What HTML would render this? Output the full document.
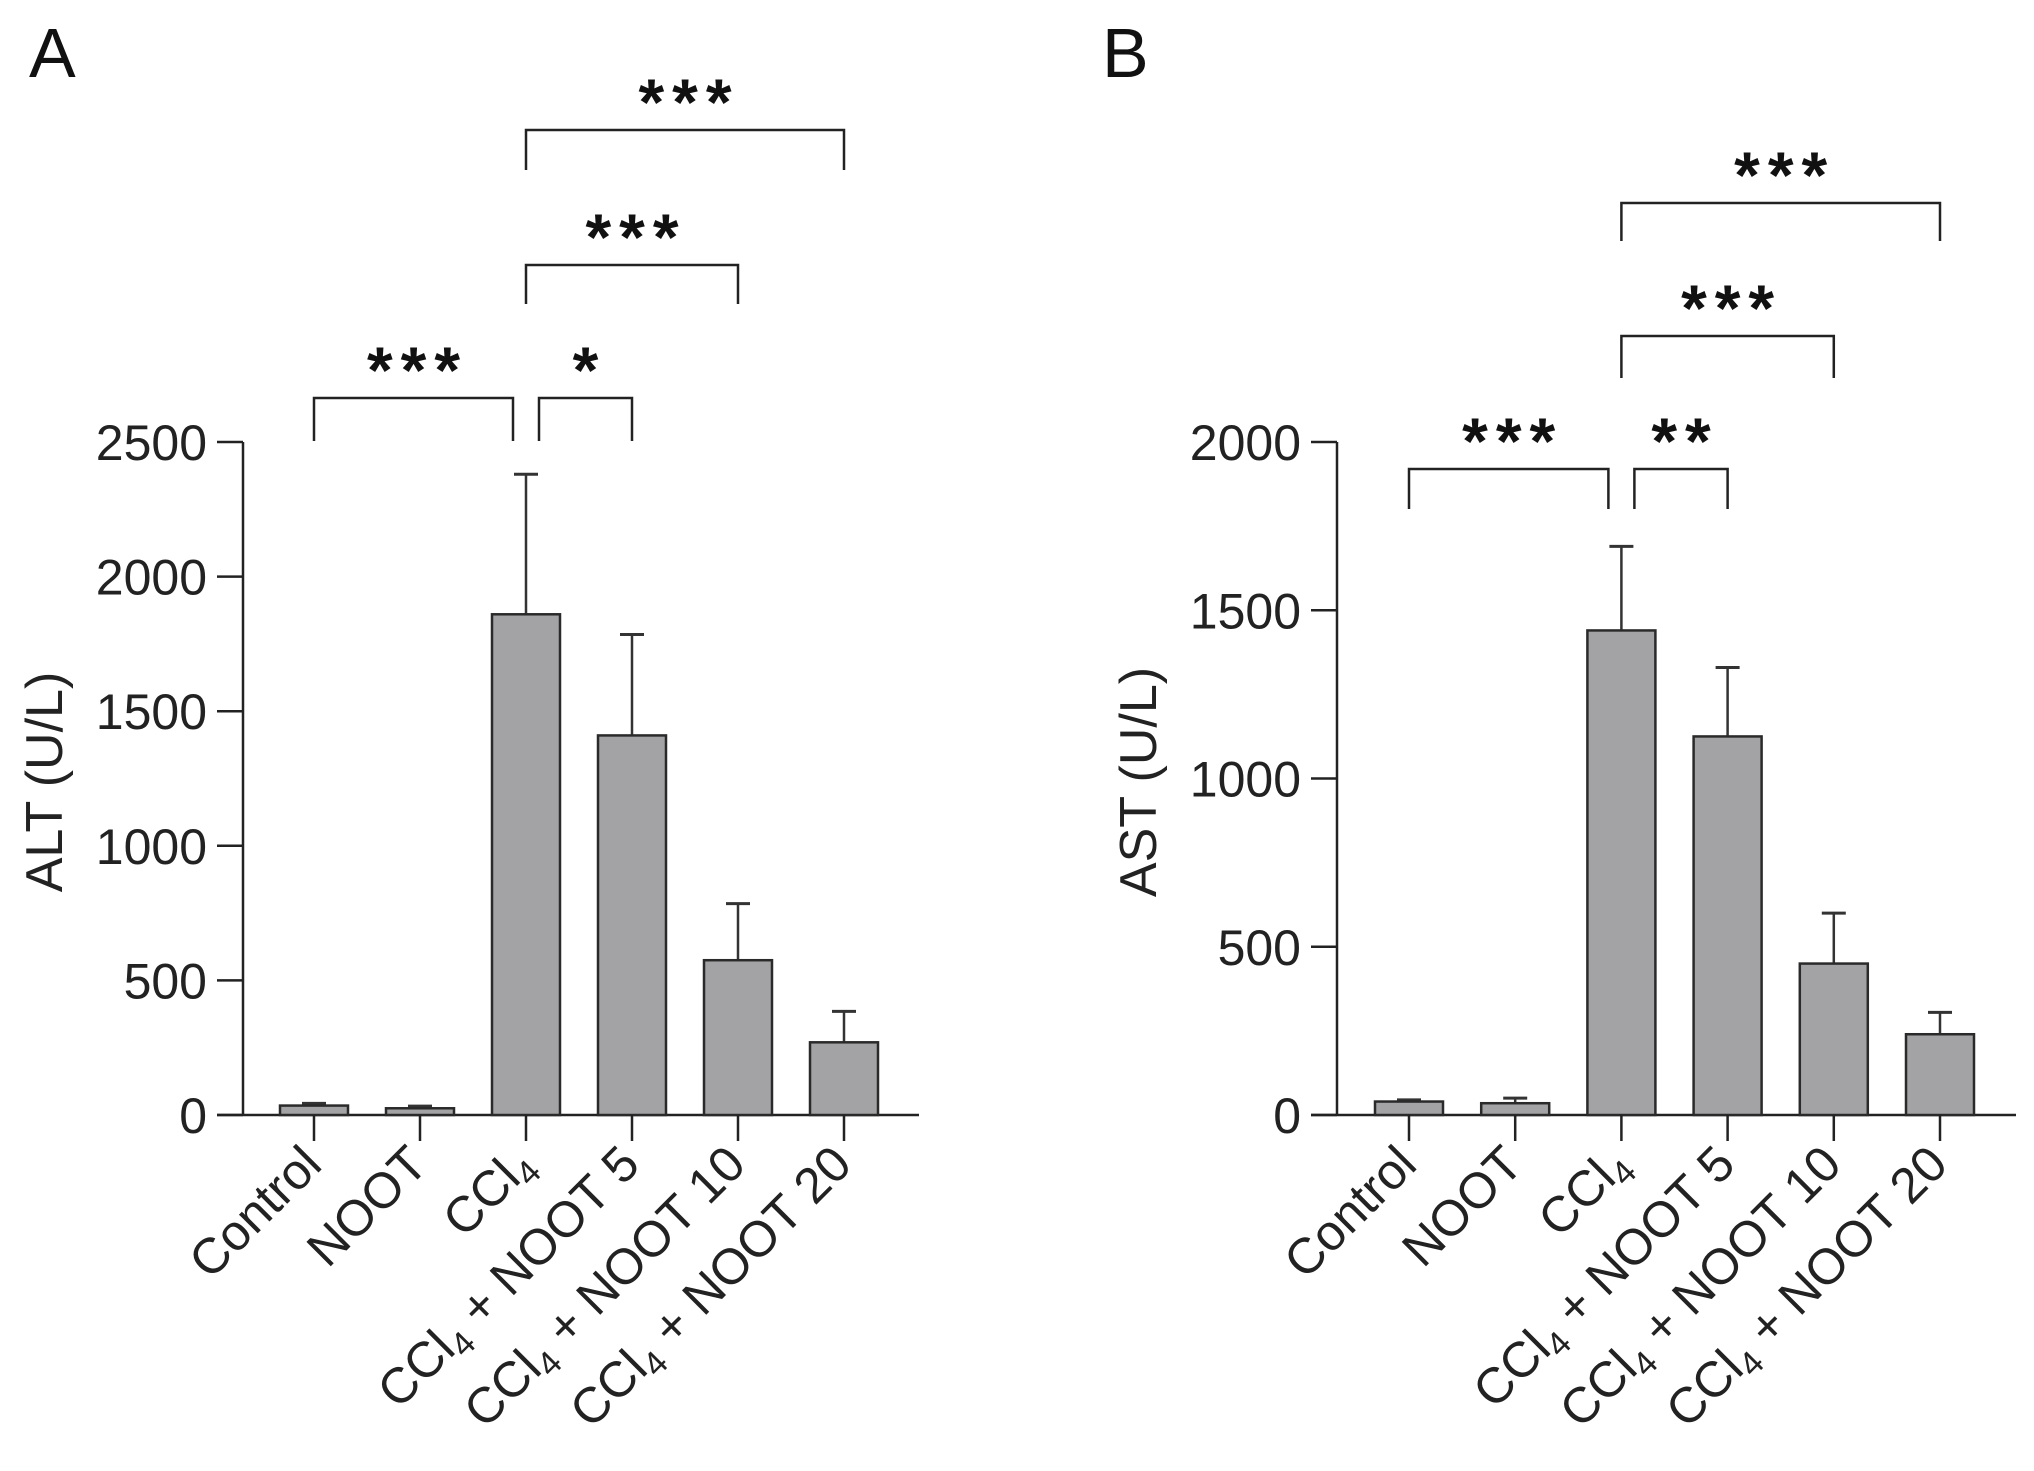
<!DOCTYPE html>
<html><head><meta charset="utf-8"><style>
html,body{margin:0;padding:0;background:#fff;overflow:hidden}
svg{display:block;font-family:"Liberation Sans",Arial,sans-serif}
</style></head><body>
<svg id="fig" width="2034" height="1471" viewBox="0 0 2034 1471" xmlns="http://www.w3.org/2000/svg"></svg>
<script>
const categories = ["Control","NOOT","CCl4","CCl4 + NOOT 5","CCl4 + NOOT 10","CCl4 + NOOT 20"];
const altMeans = [35, 25, 1860, 1410, 575, 270];
const altErr = [8, 8, 520, 375, 210, 115];
const astMeans = [40, 35, 1440, 1125, 450, 240];
const astErr = [5, 15, 250, 205, 150, 65];
const altTicks = [0, 500, 1000, 1500, 2000, 2500];
const astTicks = [0, 500, 1000, 1500, 2000];
const altSig = [{a:0,b:2,label:"***",level:0,gapR:true},{a:2,b:3,label:"*",level:0,gapL:true},{a:2,b:4,label:"***",level:1},{a:2,b:5,label:"***",level:2}];
const astSig = [{a:0,b:2,label:"***",level:0,gapR:true},{a:2,b:3,label:"**",level:0,gapL:true},{a:2,b:4,label:"***",level:1},{a:2,b:5,label:"***",level:2}];

const NS="http://www.w3.org/2000/svg";
const svg=document.getElementById('fig');
function mk(tag,attrs,parent){const e=document.createElementNS(NS,tag);for(const k in attrs)e.setAttribute(k,attrs[k]);(parent||svg).appendChild(e);return e;}

function panel(opt){
  const g=mk('g',{});
  
  
  const y0=1115, yTop=442;
  const y=v=>y0-(v/opt.max)*(y0-yTop);
  const x=i=>opt.x0+i*opt.step;
  const L=mk('text',{x:opt.letterX,y:77,'font-size':70,fill:'#111'},g);L.textContent=opt.letter;
  
  const ax=mk('line',{x1:opt.axX,y1:yTop,x2:opt.axX,y2:y0,stroke:'#222','stroke-width':2.5},g);
  
  const xa=mk('line',{x1:opt.axX-26,y1:y0,x2:opt.axEnd,y2:y0,stroke:'#222','stroke-width':2.5},g);
  
  opt.ticks.forEach(t=>{
    mk('line',{x1:opt.axX-26,y1:y(t),x2:opt.axX,y2:y(t),stroke:'#222','stroke-width':2.5},g);
    const tl=mk('text',{x:opt.axX-36,y:y(t)+18,'font-size':50,'text-anchor':'end',fill:'#222'},g);
    tl.textContent=t;
    
  });
  const yt=mk('text',{x:0,y:0,'font-size':52,'text-anchor':'middle',fill:'#222',transform:`translate(${opt.titleX},782) rotate(-90)`},g);
  yt.textContent=opt.title;
  
  const bw=68;
  opt.means.forEach((m,i)=>{
    const cx=x(i), top=y(opt.means[i]+opt.err[i]);
    mk('line',{x1:cx,y1:y(m),x2:cx,y2:top,stroke:'#333','stroke-width':2.5},g);
    mk('line',{x1:cx-12,y1:top,x2:cx+12,y2:top,stroke:'#333','stroke-width':3},g);
    const r=mk('rect',{x:cx-bw/2,y:y(m),width:bw,height:y0-y(m),fill:'#a3a3a5',stroke:'#2a2a2a','stroke-width':2.5},g);
    
    
    mk('line',{x1:cx,y1:y0,x2:cx,y2:y0+26,stroke:'#222','stroke-width':2.5},g);
    const lab=mk('text',{x:0,y:0,'font-size':50,'text-anchor':'end',fill:'#222',transform:`translate(${cx+10},${y0+52}) rotate(-45)`},g);
    
    const c=categories[i];
    if(c.startsWith('CCl4')){
      const t1=mk('tspan',{},lab);t1.textContent='CCl';
      const t2=mk('tspan',{dy:10,'font-size':34},lab);t2.textContent='4';
      const t3=mk('tspan',{dy:-10},lab);t3.textContent=c.slice(4);
    } else lab.textContent=c;
  });
  opt.sig.forEach(s=>{
    const by=opt.brY[s.level], leg=opt.brLeg[s.level];
    let xa1=x(s.a), xb=x(s.b);
    if(s.gapR) xb-=13;
    if(s.gapL) xa1+=13;
    const p=mk('path',{d:`M${xa1},${by+leg} V${by} H${xb} V${by+leg}`,fill:'none',stroke:'#222','stroke-width':2.5},g);
    
    const st=mk('text',{x:(xa1+xb)/2+4,y:by-opt.starOff+38,'font-size':66,'font-weight':'bold','text-anchor':'middle',fill:'#111','letter-spacing':8},g);
    st.textContent=s.label;
    
  });
}
panel({name:'panel-a-alt',letter:'A',letterX:29,axX:243,axEnd:919,x0:314,step:106,max:2500,ticks:altTicks,title:'ALT (U/L)',titleX:62,means:altMeans,err:altErr,sig:altSig,brY:[398,265,130],brLeg:[43,39,40],starOff:43});
panel({name:'panel-b-ast',letter:'B',letterX:1102,axX:1337,axEnd:2016,x0:1409,step:106.2,max:2000,ticks:astTicks,title:'AST (U/L)',titleX:1156,means:astMeans,err:astErr,sig:astSig,brY:[469,336,203],brLeg:[40,42,38],starOff:43});
</script>
</body></html>
